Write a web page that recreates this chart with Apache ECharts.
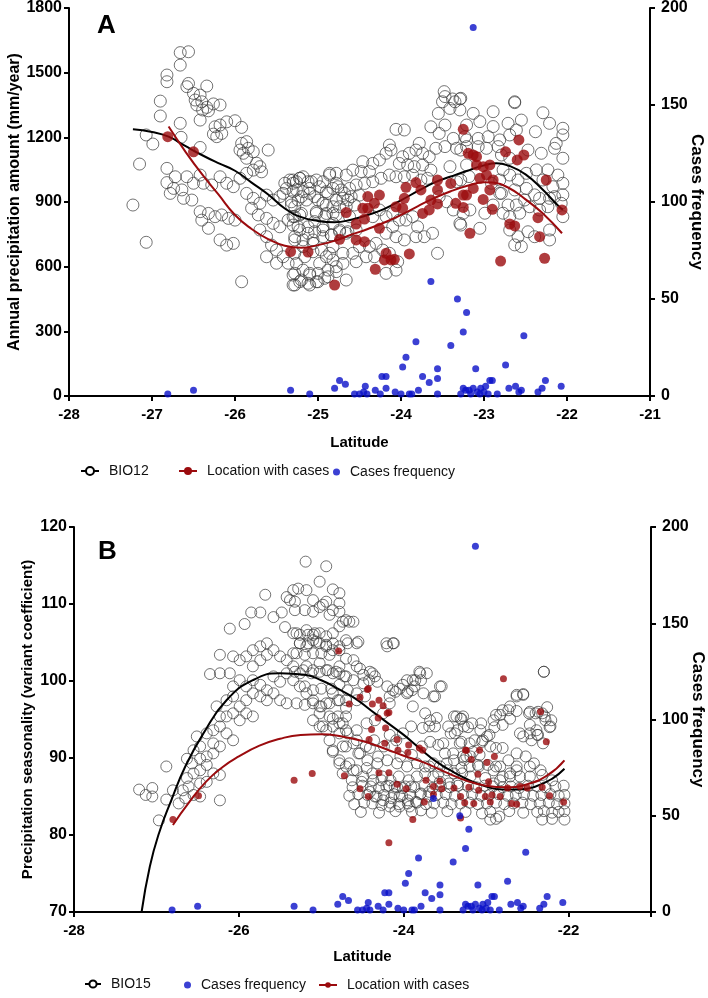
<!DOCTYPE html>
<html><head><meta charset="utf-8">
<script src="https://cdn.jsdelivr.net/npm/echarts/dist/echarts.min.js"></script>
<style>html,body{margin:0;padding:0;background:#fff}#c{width:708px;height:998px}</style>
</head><body><div id="c"></div>
<script>
// ---------- Panel A: BIO12 (annual precipitation) ----------
const bio12Pts = [
[-26.66,1593],[-26.56,1597],[-26.66,1535],[-26.82,1489],[-26.82,1458],[-26.56,1450],[-26.58,1435],[-26.34,1438],[-26.5,1404],[-26.42,1396],[-26.48,1373],[-26.4,1365],[-26.46,1350],[-26.34,1339],[-26.26,1355],[-26.18,1350],[-26.39,1327],[-26.32,1323],[-26.9,1368],[-26.9,1299],[-26.66,1265],[-26.42,1280],[-26.24,1249],[-26.18,1257],[-26.1,1272],[-26.0,1277],[-25.92,1246],[-26.26,1215],[-26.16,1218],[-26.22,1203],[-27.07,1211],[-26.99,1169],[-26.65,1200],[-27.15,1076],[-27.23,886],[-27.07,713],
[-25.92,1172],[-25.86,1180],[-25.94,1141],[-25.84,1149],[-25.9,1126],[-25.78,1133],[-25.86,1103],[-25.74,1080],[-25.7,1064],[-25.78,1048],[-25.68,1040],[-25.6,1141],[-26.42,1153],
[-26.82,1056],[-26.72,1017],[-26.82,990],[-26.74,963],[-26.64,956],[-26.78,940],[-26.62,917],[-26.58,1017],[-26.5,987],[-26.42,1025],[-26.38,987],[-26.28,979],[-26.18,1017],[-26.1,987],[-26.02,971],[-25.94,1010],[-25.86,1033],
[-26.52,909],[-26.42,855],[-26.32,847],[-26.24,832],[-26.16,840],[-26.08,824],[-26.0,816],[-26.4,816],[-26.32,778],[-26.18,724],[-26.1,700],[-26.02,708],[-25.92,530],
[-25.86,940],[-25.78,917],[-25.7,894],[-25.62,932],[-25.54,909],[-25.46,925],[-25.38,963],[-25.3,987],[-25.22,1010],[-25.8,871],[-25.72,840],[-25.62,824],[-25.54,801],[-25.46,785],[-25.36,816],[-25.28,832],[-25.7,770],[-25.62,739],[-25.56,700],[-25.5,677],[-25.42,646],[-25.36,616],[-25.5,616],[-25.62,646],[-25.3,561],[-25.28,515],[-25.42,940],[-25.32,886],
[-25.4,987],[-25.34,1002],[-25.26,994],[-25.18,1017],[-25.08,994],[-24.98,971],[-25.3,948],[-25.2,925],[-25.1,940],[-25.0,909],[-24.9,886],[-24.82,847],[-24.74,878],[-25.28,878],[-25.2,847],[-25.02,847],[-24.92,832],[-25.3,793],[-25.22,770],[-25.12,755],[-25.04,809],[-24.94,770],[-24.84,747],[-24.74,770],[-25.28,724],[-25.18,693],[-25.06,708],[-24.96,677],[-24.86,662],[-24.66,755],[-25.28,569],[-25.2,538],[-25.1,561],[-25.0,530],[-24.88,553],[-24.78,577],[-24.66,538],[-25.1,515],[-24.82,631],[-24.7,662],[-24.62,832],[-24.68,940],[-24.76,971],[-24.86,1033],[-24.88,940],[-24.78,987],[-24.64,909],[-24.78,909],
[-23.5,1365],[-23.35,1365],[-23.41,1334],[-23.55,1311],[-23.29,1327],[-23.64,1249],[-23.47,1257],[-23.54,1218],[-23.37,1195],[-23.23,1203],[-23.21,1157],[-24.06,1237],[-23.96,1234],[-23.33,1149],[-23.47,1157],[-23.58,1149],[-24.14,1164],[-24.12,1141],[-23.78,1172],[-23.82,1141],[-23.74,1126],[-23.66,1110],[-23.9,1126],[-23.98,1110],[-24.02,1079],[-23.92,1072],[-23.84,1064],[-23.74,1072],[-23.64,1048],[-24.18,1126],[-24.26,1095],[-24.34,1079],[-24.46,1087],[-24.48,1041],[-24.38,1041],[-24.58,1048],[-24.66,1025],[-24.78,1033],[-24.86,1025],[-24.94,994],[-25.02,1002],[-25.12,994],[-25.22,1010],[-25.3,1002],[-25.26,956],[-25.18,948],[-25.1,963],[-25.04,925],[-25.14,909],[-25.24,909],[-25.32,901],[-24.9,948],[-24.82,963],[-24.72,956],[-24.62,963],[-24.54,979],[-24.44,986],[-24.34,994],[-24.24,1010],[-24.14,1025],[-24.06,1017],[-23.96,1017],[-23.86,1025],[-23.76,1002],[-23.68,1010],
[-24.7,917],[-24.6,925],[-24.5,932],[-24.66,878],[-24.56,886],[-24.82,878],[-24.94,894],[-25.02,855],[-25.22,840],[-25.3,832],[-24.9,847],[-24.78,840],[-24.82,801],[-24.94,785],[-25.04,762],[-25.12,785],[-25.24,785],[-25.28,739],[-25.18,724],[-25.06,724],[-24.94,739],[-24.84,747],[-24.74,762],[-24.64,762],[-24.54,770],[-24.34,832],[-24.26,863],[-24.18,832],[-24.1,847],[-24.02,816],[-23.94,816],[-23.86,832],[-23.8,785],[-24.1,785],[-24.18,755],[-24.06,739],[-23.96,724],[-23.82,739],[-23.72,739],[-23.62,755],[-24.3,708],[-24.38,693],[-24.5,693],[-24.58,662],[-24.54,623],[-24.42,646],[-24.32,646],[-24.22,677],[-24.14,662],[-24.04,623],[-24.06,584],[-24.18,569],[-24.82,693],[-24.9,646],[-24.98,615],[-25.06,669],[-25.16,646],[-25.28,662],[-25.26,615],[-25.18,584],[-25.1,569],[-25.0,569],[-24.88,584],[-24.78,600],[-24.7,615],[-25.22,530],[-25.12,523],[-25.02,530],[-24.92,546],[-25.3,515],[-23.56,662],[-23.41,1064],[-23.33,994],[-23.29,801],[-23.37,863],[-23.45,901],[-23.54,925],
[-23.28,1381],[-23.13,1311],[-22.89,1319],[-22.63,1361],[-22.29,1314],[-22.21,1265],[-22.05,1242],[-22.05,1211],[-22.38,1226],[-22.55,1280],[-22.71,1265],[-22.89,1250],[-23.05,1273],[-23.21,1257],[-23.21,1188],[-23.07,1195],[-22.95,1203],[-22.81,1188],[-22.69,1211],[-22.61,1234],[-22.83,1157],[-22.97,1149],[-23.07,1157],[-23.28,1141],[-23.21,1072],[-22.79,1118],[-22.69,1103],[-22.47,1141],[-22.31,1126],[-22.15,1149],[-22.13,1172],[-22.05,1103],[-22.23,1049],[-22.11,1025],[-22.05,987],[-22.05,933],[-22.07,894],[-22.05,832],[-22.17,971],[-22.29,1002],[-22.37,1049],[-22.49,1033],[-22.59,1002],[-22.69,1025],[-22.77,1049],[-22.81,1002],[-22.91,987],[-22.79,940],[-22.63,956],[-22.49,963],[-22.39,933],[-22.51,909],[-22.61,886],[-22.71,886],[-22.77,848],[-22.69,832],[-22.57,848],[-22.45,878],[-22.33,863],[-22.23,878],[-22.33,917],[-22.21,917],[-22.15,925],[-22.69,770],[-22.59,739],[-22.47,762],[-22.39,739],[-22.21,770],[-22.21,724],[-22.55,693],[-22.63,701],[-23.05,778],[-23.28,793],[-23.25,848],[-23.17,863],[-22.99,848],[-22.89,886],[-22.81,940],[-23.28,1002],[-23.18,1018],
[-23.48,1412],[-23.47,1389],[-23.38,1378],[-23.29,1378],[-22.63,1365]
];
const bio12Fit = [[-27.23,1237],[-27.0,1225],[-26.8,1203],[-26.6,1160],[-26.4,1118],[-26.2,1080],[-26.0,1045],[-25.8,990],[-25.6,935],[-25.4,870],[-25.2,830],[-25.0,812],[-24.8,806],[-24.6,818],[-24.4,840],[-24.2,868],[-24.0,908],[-23.8,950],[-23.6,990],[-23.4,1018],[-23.2,1045],[-23.0,1070],[-22.85,1080],[-22.7,1068],[-22.5,1028],[-22.3,960],[-22.1,880],[-22.05,865]];
const locAPts = [[-26.81,1203],[-26.5,1133],[-25.33,670],[-25.12,668],[-24.8,515],[-24.74,727],[-24.66,851],[-24.54,798],[-24.44,821],[-24.54,724],[-24.44,716],[-24.4,925],[-24.26,932],[-24.32,894],[-24.4,871],[-24.46,871],[-24.26,778],[-24.18,662],[-24.2,631],[-24.12,631],[-24.08,634],[-24.31,588],[-23.9,659],[-24.06,878],[-23.98,871],[-23.96,917],[-23.94,968],[-23.82,990],[-23.76,956],[-23.74,847],[-23.66,863],[-23.56,1002],[-23.56,956],[-23.56,891],[-23.64,909],[-23.4,986],[-23.34,894],[-23.25,875],[-23.25,932],[-23.17,755],[-23.25,1237],[-23.19,1126],[-22.58,1188],[-22.74,1133],[-22.6,1095],[-22.52,1118],[-23.13,1118],[-23.09,1110],[-23.09,1072],[-23.01,1064],[-22.93,1072],[-23.05,1010],[-22.97,1025],[-22.89,1002],[-23.13,963],[-23.21,932],[-22.93,956],[-23.01,912],[-22.9,866],[-22.25,1002],[-22.06,863],[-22.35,827],[-22.69,798],[-22.63,789],[-22.33,739],[-22.8,626],[-22.27,639]];
const locAFit = [[-26.8,1250],[-26.6,1135],[-26.4,1030],[-26.2,935],[-26.0,840],[-25.8,775],[-25.6,728],[-25.4,697],[-25.2,688],[-25.0,700],[-24.8,720],[-24.6,748],[-24.4,775],[-24.2,805],[-24.0,840],[-23.8,880],[-23.6,918],[-23.4,950],[-23.2,975],[-23.0,992],[-22.9,990],[-22.7,965],[-22.5,912],[-22.3,850],[-22.06,755]];
// ---------- Cases frequency (same in both panels, right axis) ----------
const casesPts = [[-26.81,1],[-26.5,3],[-25.33,3],[-25.1,1],[-24.8,4],[-24.74,8],[-24.67,6],[-24.56,1],[-24.43,5],[-24.41,1],[-24.31,3],[-24.25,1],[-24.23,10],[-24.18,10],[-24.18,4],[-24.07,2],[-23.98,15],[-23.94,20],[-23.9,1],[-23.87,1],[-23.82,28],[-23.79,3],[-23.74,10],[-23.66,7],[-23.64,59],[-23.56,14],[-23.56,9],[-23.56,1],[-23.4,26],[-23.32,50],[-23.25,33],[-23.21,43],[-23.13,190],[-23.1,14],[-23.25,4],[-23.22,3],[-23.18,3],[-23.13,4],[-23.08,2],[-23.04,4],[-23.0,2],[-22.98,5],[-22.93,8],[-22.9,8],[-22.84,1],[-22.74,16],[-22.7,4],[-22.62,5],[-22.58,2],[-22.55,3],[-22.52,31],[-22.35,2],[-22.3,4],[-22.26,8],[-22.07,5],[-24.5,1],[-24.45,2],[-23.28,1],[-23.16,1],[-23.05,1],[-22.95,1],[-24.0,1]];
// ---------- Panel B: BIO15 (precipitation seasonality) ----------
const bio15Pts = [
[-27.21,85.9],[-27.13,85.2],[-27.05,86.1],[-27.05,85.0],[-26.97,81.9],[-26.88,88.9],[-26.88,84.6],[-26.80,85.8],[-26.73,84.1],[-26.65,84.8],[-26.68,85.8],[-26.61,86.3],[-26.55,85.2],[-26.47,85.0],[-26.63,87.4],[-26.55,88.0],[-26.47,88.4],[-26.57,89.3],[-26.47,89.9],[-26.39,90.2],[-26.31,90.6],[-26.39,89.1],[-26.31,88.0],[-26.23,87.8],[-26.39,86.9],[-26.47,86.7],[-26.31,91.9],[-26.23,91.5],[-26.47,91.5],[-26.51,92.8],[-26.39,93.2],[-26.31,93.6],[-26.23,94.1],[-26.15,93.2],[-26.07,92.3],[-26.15,95.4],[-26.07,95.8],[-25.99,94.9],[-26.23,95.4],[-26.27,96.7],[-26.15,97.5],[-26.07,98.0],[-25.99,96.7],[-25.91,95.8],[-25.83,95.4],[-25.91,97.5],[-25.83,98.4],[-25.74,98.0],[-25.66,97.5],[-26.07,99.3],[-25.99,100.1],[-25.91,99.3],[-25.83,100.1],[-25.74,99.5],[-25.66,98.8],[-25.58,98.4],[-25.50,97.5],[-25.42,97.1],[-25.58,100.6],[-25.50,99.9],[-25.42,101.0],[-25.34,100.1],[-25.26,99.3],[-25.18,98.4],[-25.10,97.5],[-25.02,96.7],[-24.94,97.1],[-24.86,98.4],[-24.78,97.5],[-24.70,97.5],[-25.34,101.9],[-25.26,101.0],[-25.18,101.9],[-25.10,101.4],[-25.02,102.3],[-24.94,101.4],[-24.86,101.0],[-24.78,101.9],[-24.70,100.6],[-25.83,101.9],[-25.74,102.7],[-25.66,103.4],[-25.58,104.0],[-25.50,103.2],[-25.42,102.7],[-25.34,103.6],[-25.26,104.9],[-25.18,104.5],[-25.10,105.3],[-25.02,104.9],[-24.94,104.5],[-24.86,104.9],[-24.78,104.0],[-24.70,105.3],[-25.83,104.0],[-25.74,104.5],[-25.66,104.9],[-26.07,103.2],[-25.99,102.7],[-25.91,103.2],[-24.78,101.0],[-26.23,103.4],[-26.23,101.0],[-26.11,101.0],[-26.35,100.9],[-26.11,106.8],[-25.93,107.4],[-25.85,108.9],[-25.74,108.9],[-25.68,111.2],[-25.58,108.3],[-25.48,108.9],[-25.42,110.9],[-25.34,111.8],[-25.28,112.0],[-25.18,111.8],[-25.10,110.5],[-25.02,109.6],[-24.94,110.3],[-24.86,109.2],[-24.78,110.1],[-25.19,115.5],[-24.94,114.9],[-25.02,112.9],[-24.86,111.9],[-24.78,111.4],[-25.38,110.5],[-25.32,109.2],[-25.44,107.0],[-25.34,106.2],[-25.26,106.0],[-25.18,106.6],[-25.10,106.0],[-25.02,106.2],[-24.94,105.8],[-24.86,106.2],[-24.78,107.1],[-24.70,107.9],[-24.70,95.4],[-24.70,93.6],[-24.78,94.5],[-24.86,95.1],[-24.94,93.6],[-25.02,94.1],[-24.86,91.0],[-24.78,89.7],[-24.70,88.9],[-24.90,92.3],[-25.02,95.8],[-25.10,94.9],[-24.70,91.5],[-26.23,84.5],[-26.55,91.0],[-26.63,89.9],
[-25.32,110.3],[-25.20,109.2],[-25.10,109.0],[-24.98,109.9],[-24.90,108.6],[-24.78,109.0],[-24.66,107.7],[-24.74,107.7],[-25.30,106.2],[-25.16,106.0],[-25.08,106.2],[-25.26,104.9],[-25.16,104.9],[-25.06,105.1],[-24.94,104.7],[-24.86,104.0],[-24.78,104.5],[-24.68,104.9],[-24.57,104.9],[-25.30,103.6],[-25.20,103.4],[-25.10,103.6],[-25.00,103.6],[-24.90,103.4],[-24.70,102.9],[-24.61,102.7],[-24.53,101.6],[-24.41,101.2],[-24.35,100.6],[-25.32,101.2],[-25.22,101.4],[-25.12,101.0],[-25.02,101.2],[-24.92,101.4],[-24.82,101.2],[-24.72,100.6],[-24.61,100.1],[-24.49,99.7],[-25.20,99.3],[-25.10,98.8],[-25.00,99.0],[-24.88,99.0],[-24.78,99.5],[-24.68,98.8],[-24.57,98.4],[-24.47,98.0],[-25.30,97.1],[-25.20,96.9],[-25.10,97.1],[-25.00,96.7],[-24.90,97.1],[-24.80,97.5],[-24.70,96.5],[-24.57,97.5],[-24.90,95.4],[-24.80,95.4],[-24.74,94.5],[-24.98,94.1],[-24.86,94.1],[-24.78,93.2],[-24.68,93.2],[-24.57,93.6],[-24.45,94.5],[-24.35,94.9],[-24.25,95.8],[-24.17,98.0],[-24.13,98.8],[-24.05,99.0],[-23.95,98.6],[-23.87,99.3],[-23.79,100.1],[-23.81,101.2],[-23.89,100.1],[-24.01,99.5],[-23.54,99.3],[-23.62,98.0],[-23.60,95.2],[-23.69,94.1],[-23.77,93.9],[-23.89,96.7],[-23.91,94.1],[-24.01,93.2],[-24.09,92.3],[-24.17,93.0],[-24.17,97.1],[-24.21,104.9],[-24.13,104.9],[-24.74,91.5],[-24.61,91.9],[-24.53,90.6],[-24.41,91.3],[-24.31,90.2],[-24.86,90.8],[-24.78,89.3],[-24.66,89.3],[-24.57,88.4],[-24.45,88.7],[-24.37,87.1],[-24.27,87.1],[-24.21,86.3],[-24.11,86.3],[-24.01,86.1],[-23.91,86.3],[-23.79,85.4],[-23.69,85.6],[-24.63,87.1],[-24.74,88.0],[-24.51,86.9],[-24.41,85.6],[-24.33,85.0],[-24.25,84.5],[-24.15,84.8],[-24.05,85.0],[-23.95,84.5],[-23.85,84.3],[-23.79,83.2],[-23.93,83.7],[-24.05,83.7],[-24.17,83.7],[-23.46,94.1],[-23.36,95.4],[-23.28,95.4],[-23.38,93.2],[-23.32,91.9],[-23.40,90.6],[-23.48,89.3],[-23.58,88.0],[-23.69,88.9],[-23.28,90.2],[-23.20,91.9],[-23.52,91.9],
[-22.30,101.2],[-22.63,98.2],[-22.55,98.3],[-22.71,96.7],[-22.80,96.2],[-22.88,95.6],[-22.63,96.1],[-22.71,95.1],[-22.80,94.3],[-22.90,94.0],[-22.96,93.0],[-23.06,94.5],[-23.22,94.0],[-23.30,95.1],[-23.14,92.3],[-23.04,92.3],[-23.30,92.1],[-22.88,91.3],[-22.80,91.3],[-22.63,90.6],[-22.47,96.0],[-22.37,96.0],[-22.29,95.4],[-22.21,94.9],[-22.23,94.0],[-22.47,94.3],[-22.55,92.8],[-22.39,93.6],[-22.45,92.3],[-22.37,93.0],[-22.31,91.9],[-22.47,88.9],[-22.63,88.4],[-22.71,88.0],[-22.80,87.6],[-22.88,88.9],[-22.98,89.1],[-23.08,90.4],[-23.16,90.8],[-23.24,90.2],[-23.30,88.7],[-23.20,88.9],[-23.10,89.1],
[-24.61,107.7],[-24.55,105.1],[-24.57,101.9],[-24.49,100.8],[-24.38,101.0],[-24.42,100.1],[-24.32,99.9],[-24.20,99.3],[-24.10,98.6],[-23.96,98.4],[-23.90,98.8],[-23.86,100.1],[-23.96,100.1],[-23.80,101.0],[-23.72,101.0],[-23.64,98.0],[-23.56,99.3],[-24.20,104.5],[-24.12,104.9],[-23.76,98.4],[-23.74,95.8],[-23.68,94.9],[-23.62,94.1],[-23.43,93.2],[-23.35,93.6],[-23.27,94.1],[-23.39,95.4],[-23.31,95.1],[-23.17,94.5],[-23.07,93.6],[-22.99,92.8],[-23.05,92.1],[-22.95,91.5],[-22.91,94.9],[-22.83,95.6],[-22.73,96.2],[-22.63,98.0],[-22.55,98.2],[-22.59,93.2],[-22.47,93.2],[-22.38,93.0],[-22.28,94.9],[-22.22,94.1],[-22.40,95.8],[-22.48,95.8],[-22.32,95.8],[-22.26,96.6],[-22.30,101.2],[-23.39,89.7],[-23.27,89.7],[-23.19,90.2],[-23.09,88.9],[-22.91,88.4],[-22.83,88.9],[-22.73,89.7],[-22.63,88.9],[-22.52,90.2],[-22.42,89.3],[-22.34,88.4],[-24.55,90.6],[-24.44,89.7],[-24.32,89.3],[-24.20,89.7],[-24.08,89.3],[-23.96,88.9],[-23.84,89.3],[-23.74,88.9],[-23.64,89.3],[-23.56,88.9],[-23.47,88.4],[-23.39,88.0],[-23.29,88.0],[-23.19,87.6],[-24.61,88.4],[-24.49,87.6],[-24.38,88.0],[-24.26,87.6],[-24.16,87.1],[-24.06,87.6],[-23.94,87.1],[-23.84,87.6],[-23.74,88.0],[-23.64,87.6],[-23.56,86.9],[-23.45,86.7],[-23.35,86.7],[-23.01,87.4],[-22.91,86.7],[-22.83,87.1],[-22.71,87.6],[-22.59,87.6],[-22.47,87.6],[-22.32,87.8],[-22.20,87.1],[-24.57,92.3],[-24.46,91.5],[-24.36,92.3],[-24.24,91.5],[-24.14,91.5],[-24.04,90.2],[-23.90,90.4],[-23.78,91.5],[-23.68,92.1],[-23.58,91.7],[-23.50,90.6],
[-24.62,86.2],[-24.50,86.4],[-24.40,86.3],[-24.30,86.1],[-24.18,86.4],[-24.08,86.2],[-23.98,86.3],[-23.87,86.2],[-23.75,86.4],[-23.65,86.1],[-23.55,86.3],[-23.44,86.2],[-23.34,86.4],[-23.22,86.3],[-23.12,86.2],[-23.02,86.4],[-22.92,86.3],[-22.80,86.2],[-22.70,86.3],[-22.60,86.1],[-22.49,86.4],[-22.38,86.3],[-22.28,86.2],[-22.16,86.3],[-22.06,86.4],
[-24.66,85.1],[-24.55,85.3],[-24.44,85.2],[-24.35,85.0],[-24.24,85.2],[-24.12,85.3],[-24.02,85.1],[-23.92,85.2],[-23.80,85.3],[-23.70,85.0],[-23.60,85.2],[-23.49,85.3],[-23.38,85.1],[-23.28,85.2],[-23.17,85.3],[-23.06,85.1],[-22.96,85.2],[-22.85,85.3],[-22.74,85.1],[-22.64,85.2],[-22.54,85.3],[-22.43,85.1],[-22.33,85.2],[-22.22,85.3],[-22.12,85.1],[-22.05,85.2],
[-24.60,84.0],[-24.48,84.2],[-24.38,84.1],[-24.27,83.9],[-24.16,84.2],[-24.06,84.0],[-23.95,84.1],[-23.84,84.2],[-23.73,84.0],[-23.63,84.1],[-23.52,84.2],[-23.42,84.0],[-23.31,84.1],[-23.20,84.2],[-23.10,84.0],[-22.99,84.1],[-22.88,84.2],[-22.78,84.0],[-22.67,84.1],[-22.56,84.2],[-22.46,84.0],[-22.35,84.1],[-22.24,84.2],[-22.14,84.0],[-22.05,84.1],
[-24.52,83.0],[-24.30,82.9],[-24.10,83.1],[-23.90,83.0],[-23.66,82.9],[-23.47,83.1],[-23.25,83.0],[-23.05,82.8],[-22.95,83.0],[-22.84,82.4],[-22.72,83.1],[-22.55,82.9],[-22.38,83.0],[-22.30,83.1],[-22.20,82.9],[-22.12,83.0],[-22.05,83.1],[-22.95,82.0],[-22.88,82.1],[-22.32,82.0],[-22.20,82.1],[-22.05,82.0]
];
const bio15Fit = [[-27.18,70],[-27.08,75.9],[-26.97,80.2],[-26.82,84.5],[-26.65,88.9],[-26.43,93.2],[-26.15,97.5],[-25.83,100.1],[-25.5,101.0],[-25.2,100.8],[-25.0,100.1],[-24.8,99.0],[-24.6,97.8],[-24.4,96.2],[-24.2,94.6],[-24.0,93.0],[-23.8,91.2],[-23.6,89.5],[-23.4,88.2],[-23.2,87.1],[-23.0,86.3],[-22.8,85.9],[-22.6,85.9],[-22.4,86.3],[-22.2,87.3],[-22.05,88.6]];
const locBPts = [[-26.8,82.0],[-26.49,85.1],[-25.33,87.1],[-25.11,88.0],[-24.72,87.7],[-24.79,103.9],[-24.66,97.0],[-24.53,86.0],[-24.43,85.0],[-24.53,97.9],[-24.44,98.9],[-24.38,97.0],[-24.25,96.8],[-24.18,95.9],[-24.31,95.2],[-24.39,93.7],[-24.22,93.9],[-24.42,92.4],[-24.23,91.9],[-24.07,91.0],[-23.94,91.7],[-23.95,90.7],[-23.81,91.3],[-23.77,91.0],[-24.30,88.1],[-24.18,88.1],[-24.08,86.6],[-23.97,86.0],[-23.73,87.1],[-23.64,86.3],[-23.56,87.0],[-23.54,86.0],[-23.64,85.3],[-23.75,84.3],[-23.39,86.1],[-23.25,91.0],[-23.26,84.2],[-23.89,82.0],[-24.18,79.0],[-23.31,85.0],[-23.15,84.1],[-22.95,84.3],[-23.01,85.0],[-22.93,85.2],[-22.83,85.0],[-22.97,86.9],[-23.09,85.8],[-23.21,86.2],[-23.31,82.2],[-22.90,90.2],[-22.99,89.4],[-23.08,91.0],[-23.24,91.0],[-23.18,89.8],[-23.10,87.9],[-22.74,86.1],[-22.69,84.1],[-22.63,84.0],[-22.59,86.3],[-22.50,86.1],[-22.32,86.2],[-22.23,85.1],[-22.06,84.3],[-22.34,96.0],[-22.27,92.1],[-22.79,100.3],[-24.43,99.0],[-24.30,97.5],[-24.20,95.8],[-24.08,92.4]];
const locBFit = [[-26.8,81.3],[-26.6,84.3],[-26.4,86.9],[-26.2,88.8],[-26.0,90.2],[-25.75,91.6],[-25.5,92.5],[-25.25,93.0],[-25.0,93.1],[-24.75,92.8],[-24.5,92.2],[-24.25,91.3],[-24.0,90.3],[-23.75,89.4],[-23.5,88.2],[-23.25,87.1],[-23.0,86.4],[-22.75,86.2],[-22.5,86.6],[-22.25,87.8],[-22.05,89.7]];

const FONT = '"Liberation Sans", Arial, Helvetica, sans-serif';
const RED = '#9b0b0e', BLUE = '#0a10c8', CIRC = '#3c3c3c';
const axisLine = {onZero:false, lineStyle:{color:'#000', width:2}};
const axisTick = {length:5, lineStyle:{color:'#000', width:2}};
const lbl = (m, s) => ({margin:m, fontSize:s, fontWeight:'bold', color:'#000', fontFamily:FONT, formatter: v => String(v)});
const nts = (s) => ({fontSize:s, fontWeight:'bold', color:'#000', fontFamily:FONT});

function xAx(gi, interval, gap, hideMax) {
  const l = lbl(11, 15);
  if (hideMax) l.formatter = v => (v === -21 ? '' : String(v));
  return {gridIndex:gi, type:'value', min:-28, max:-21, interval:interval,
    name:'Latitude', nameLocation:'middle', nameGap:gap, nameMoveOverlap:false, nameTextStyle:nts(15),
    axisLine, axisTick, axisLabel:l, splitLine:{show:false}};
}
function yAx(gi, pos, min, max, interval, name, gap, nsize, rot) {
  return {gridIndex:gi, type:'value', position:pos, min, max, interval,
    name, nameLocation:'middle', nameGap:gap, nameMoveOverlap:false, nameRotate:rot, nameTextStyle:nts(nsize),
    axisLine:Object.assign({show:true}, axisLine), axisTick, axisLabel:lbl(pos==='left'?7:11, 16), splitLine:{show:false}};
}
const scat = (name, xi, yi, data, size, style, z) => ({name, type:'scatter', xAxisIndex:xi, yAxisIndex:yi, data, symbol:'circle', symbolSize:size, itemStyle:style, z, silent:true});
const fit = (name, xi, yi, data, color, sym, z) => ({name, type:'line', xAxisIndex:xi, yAxisIndex:yi, data, smooth:true, showSymbol:false, symbol:sym, lineStyle:{color, width:2}, itemStyle:{color}, z, silent:true});
const legendBase = (names, left, top, w, h) => ({data:names, left, top, padding:0, itemWidth:w, itemHeight:h, itemGap:0, selectedMode:false, textStyle:{fontSize:14, color:'#111', fontFamily:FONT, padding:[0,0,0,5]}});

const chart = echarts.init(document.getElementById('c'), null, {renderer:'canvas'});
chart.setOption({
  animation:false,
  backgroundColor:'#fff',
  grid:[
    {left:69, right:58, top:8, height:388, containLabel:false, outerBoundsMode:'none'},
    {left:74, right:57, top:527, height:385, containLabel:false, outerBoundsMode:'none'}
  ],
  xAxis:[xAx(0, 1, 39, false), xAx(1, 2, 37, true)],
  yAxis:[
    yAx(0, 'left', 0, 1800, 300, 'Annual precipitation amount (mm/year)', 46, 16, 90),
    yAx(0, 'right', 0, 200, 50, 'Cases frequency', 38, 17, -90),
    yAx(1, 'left', 70, 120, 10, 'Precipitation seasonality (variant coefficient)', 39, 15, 90),
    yAx(1, 'right', 0, 200, 50, 'Cases frequency', 38, 17, -90)
  ],
  legend:[
    legendBase(['BIO12'], 80, 464, 18, 10),
    legendBase(['Location with cases'], 178, 464, 18, 10),
    legendBase(['Cases frequency'], 333, 465, 7, 7),
    legendBase(['BIO15'], 84, 977, 16, 9),
    legendBase(['Cases frequency'], 184, 978, 7, 7),
    legendBase(['Location with cases'], 318, 978, 18, 7)
  ],
  graphic:[
    {type:'text', left:97, top:13, style:{text:'A', font:'bold 26px ' + FONT, fill:'#000'}},
    {type:'text', left:98, top:539, style:{text:'B', font:'bold 26px ' + FONT, fill:'#000'}}
  ],
  series:[
    fit('BIO12', 0, 0, bio12Fit, '#000', 'emptyCircle', 3),
    fit('Location with cases', 0, 0, locAFit, RED, 'circle', 3),
    scat('BIO12', 0, 0, bio12Pts, 12, {color:'rgba(0,0,0,0)', borderColor:CIRC, borderWidth:0.9}, 2),
    scat('Location with cases', 0, 0, locAPts, 11, {color:RED}, 4),
    scat('Cases frequency', 0, 1, casesPts, 7, {color:BLUE}, 5),
    fit('BIO15', 1, 2, bio15Fit, '#000', 'emptyCircle', 3),
    fit('Location with cases', 1, 2, locBFit, RED, 'circle', 3),
    scat('BIO15', 1, 2, bio15Pts, 11, {color:'rgba(0,0,0,0)', borderColor:CIRC, borderWidth:0.9}, 2),
    scat('Location with cases', 1, 2, locBPts, 7, {color:RED}, 4),
    scat('Cases frequency', 1, 3, casesPts, 7, {color:BLUE}, 5)
  ]
});
</script></body></html>
